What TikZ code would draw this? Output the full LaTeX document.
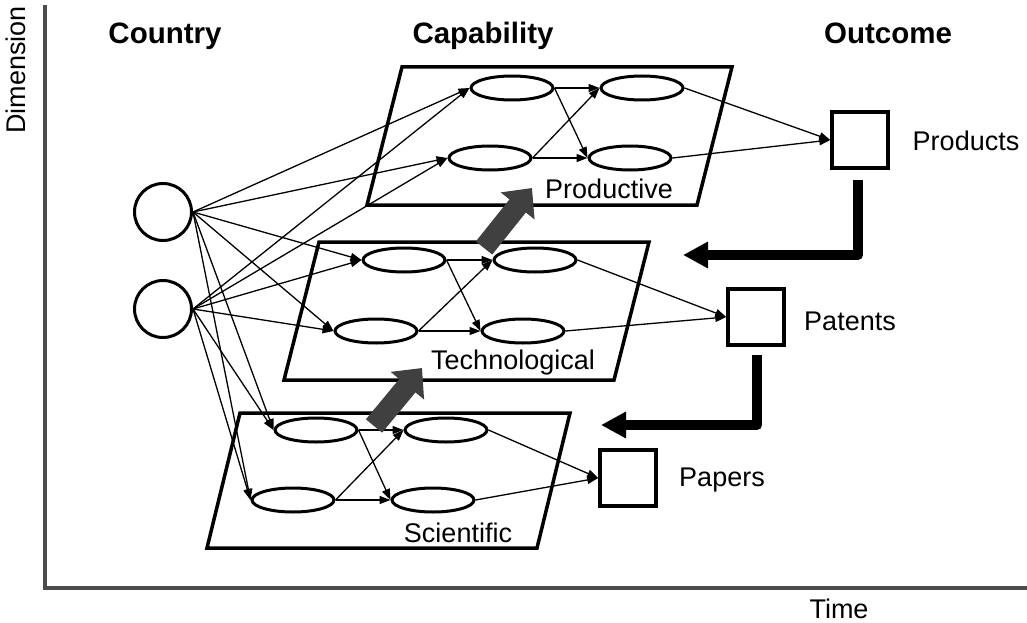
\documentclass[tikz,border=0pt]{standalone}
\usepackage{fontspec}
\setmainfont{Liberation Sans}
\usetikzlibrary{shapes.geometric,arrows.meta,positioning}

\begin{document}
\begin{tikzpicture}[x=1pt,y=-1pt,
	plane/.style={line width=3.5pt,line join=miter},
	capnode/.style={draw,ellipse,line width=3pt,minimum width=82pt,minimum height=24pt,inner sep=0pt,fill=white},
	country/.style={draw,circle,line width=3pt,minimum size=57pt,inner sep=0pt},
	outcome/.style={draw,rectangle,line width=3.5pt,minimum size=56pt,inner sep=0pt},
	link/.style={line width=1.3pt,-{Triangle[length=11pt,width=8pt]}},
	feedback/.style={line width=10pt,line join=round,-{Triangle[length=25pt,width=25pt]}},
	lift/.style={line width=21pt,draw=black!75,-{Triangle[length=23pt,width=42pt]}},
	head/.style={font=\fontsize{29.5}{35}\selectfont\bfseries,anchor=base},
	lbl/.style={font=\fontsize{27}{32}\selectfont,anchor=base},
	axis/.style={line width=4pt,draw=black!70}]
		\useasboundingbox (0,0) rectangle (1027,623);

		% axes
		\draw[axis] (45,5) -- (45,588) -- (1027,588);
		\node[lbl,rotate=90] (dim) at (25,70) {Dimension};
		\node[lbl] (time) at (839,618) {Time};

		\node[head] (hcountry) at (165,44) {Country};
		\node[head] (hcap) at (483,44) {Capability};
		\node[head] (hout) at (888,44) {Outcome};

		% the three capability planes
		\foreach \x/\y/\h/\s in {402/67/138/35, 319/242/138/35, 240/413/135/33}{
			\draw[plane] (\x,\y) -- ++(330,0) -- ++(-\s,\h) -- ++(-330,0) -- cycle;
		}
		\node[lbl] (lprod) at (609,198) {Productive};
		\node[lbl] (ltech) at (513,369) {Technological};
		\node[lbl] (lsci) at (458,542) {Scientific};

		\foreach \lay/\ax/\bx/\cx/\dx/\ty/\by in {%
			sci/316/446/293/433/430/500,%
			tech/404/535/376/523/260/331,%
			prod/512/642/490/630/88/158%
			} {%
			\node[capnode] (\lay-a) at (\ax,\ty) {};
			\node[capnode] (\lay-b) at (\bx,\ty) {};
			\node[capnode] (\lay-c) at (\cx,\by) {};
			\node[capnode] (\lay-d) at (\dx,\by) {};
		}

		\node[country] (c1) at (163,212) {};
		\node[country] (c2) at (163,309) {};

		\node[outcome] (products) at (860,140) {};
		\node[outcome] (patents) at (756,317) {};
		\node[outcome] (papers) at (628,478) {};
		\node[lbl] (tprod) at (966,150) {Products};
		\node[lbl] (tpat) at (850,330) {Patents};
		\node[lbl] (tpap) at (722,486) {Papers};

		\foreach \c in {c1,c2}
			\foreach \lay in {sci,tech,prod}
				\foreach \e in {a,c}
					\draw[link] (\c.east) -- (\lay-\e.west);

		\foreach \lay/\out in {sci/papers,tech/patents,prod/products}{
			\draw[link] (\lay-a.east) -- (\lay-b.west);
			\draw[link] (\lay-a.east) -- (\lay-d.west);
			\draw[link] (\lay-c.east) -- (\lay-b.west);
			\draw[link] (\lay-c.east) -- (\lay-d.west);
			\draw[link] (\lay-b.east) -- (\out.west);
			\draw[link] (\lay-d.east) -- (\out.west);
		}

		% feedback from outcomes
		\coordinate (fb1) at (683,255);
		\coordinate (fb2) at (601,425);
		\draw[feedback] ([shift={(-2,10)}]products.south) |- (fb1);
		\draw[feedback] ([shift={(1,8)}]patents.south) |- (fb2);

		\draw[lift] (374,426) -- (422,368);
		\draw[lift] (484,248) -- (532,188);
	\end{tikzpicture}
\end{document}
